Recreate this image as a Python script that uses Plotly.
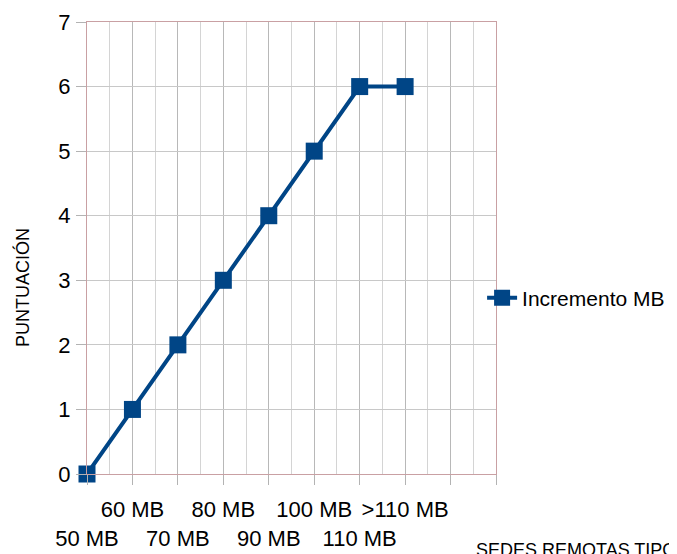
import plotly.graph_objects as go

categories = ["50 MB", "60 MB", "70 MB", "80 MB", "90 MB", "100 MB", "110 MB", ">110 MB", "", ""]
values = [0, 1, 2, 3, 4, 5, 6, 6]
series_name = "Incremento MB"
y_title = "PUNTUACIÓN"
x_title = "SEDES REMOTAS TIPO"

xpos = list(range(len(categories)))
ticktext = [("<br>" + c if i % 2 == 0 else c) for i, c in enumerate(categories)]

FONT = "Liberation Sans, Arial, sans-serif"
BLUE = "#004586"
BORDER = "#c9a0a3"

# page body has an 8px margin, so the figure is sized to end at the window edge
fig = go.Figure()
fig.add_trace(go.Scatter(
    x=xpos[:len(values)], y=values, mode="lines+markers", name=series_name,
    line=dict(color=BLUE, width=4),
    marker=dict(symbol="square", size=17, color=BLUE),
    cliponaxis=False,
))

fig.update_layout(
    width=669, height=546,
    margin=dict(l=79, r=181, t=14, b=80, autoexpand=False),
    paper_bgcolor="white", plot_bgcolor="white",
    font=dict(family=FONT, size=22, color="black"),
    showlegend=True,
    legend=dict(x=0.966, xanchor="left", y=0.389, yanchor="middle",
                bgcolor="rgba(0,0,0,0)", font=dict(size=21), borderwidth=0),
    xaxis=dict(
        range=[0, 9], tickmode="array", tickvals=xpos, ticktext=ticktext,
        showgrid=True, gridcolor="#b8b8b8", gridwidth=1,
        minor=dict(dtick=0.5, tick0=0, showgrid=True, gridcolor="#d4d4d4", ticks=""),
        ticks="outside", ticklen=10, tickcolor="#b3b3b3",
        showline=True, linecolor=BORDER, linewidth=1, mirror=True,
        zeroline=False, tickangle=0, tickfont=dict(size=22),
        automargin=False, ticklabelstandoff=6,
    ),
    yaxis=dict(
        range=[0, 7], dtick=1, tick0=0,
        showgrid=True, gridcolor="#c8c8c8", gridwidth=1,
        ticks="outside", ticklen=10, tickcolor="#b3b3b3",
        showline=True, linecolor=BORDER, linewidth=1, mirror=True,
        zeroline=False, tickfont=dict(size=22), ticklabelstandoff=1,
        automargin=False,
    ),
    annotations=[
        dict(text=y_title, textangle=-90, xref="paper", yref="paper",
             x=(22-87)/409, y=(474-288)/452, xanchor="center", yanchor="middle",
             showarrow=False, font=dict(size=18)),
        dict(text=x_title, xref="paper", yref="paper",
             x=(474-87)/409, y=-(538-474)/452, xanchor="left", yanchor="top",
             showarrow=False, font=dict(size=18)),
    ],
)

fig.write_html("out.html")
